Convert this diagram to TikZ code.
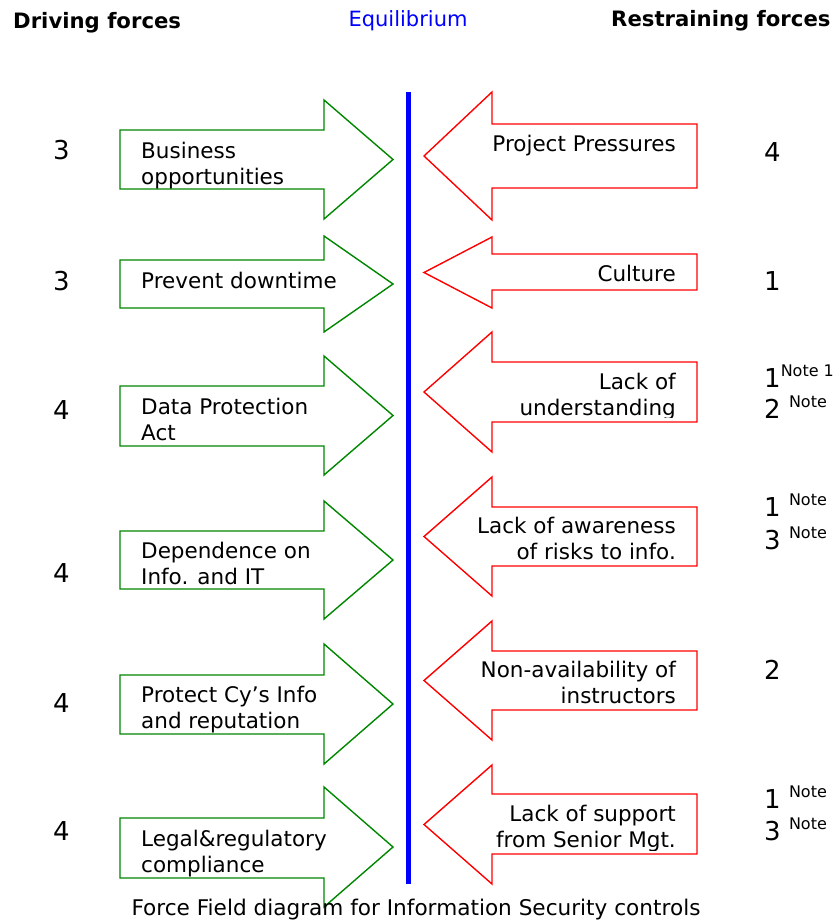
\documentclass[tikz,border=0pt]{standalone}
\usepackage{fontspec}
\setmainfont{DejaVu Sans}
\definecolor{fgreen}{RGB}{0,135,0}
\definecolor{fred}{RGB}{255,0,0}
\definecolor{fblue}{RGB}{0,0,255}
% green force arrow pointing right: head top, body top, body bottom, head bottom
\newcommand\driveArrow[4]{%
  \draw[drive] (120,#2) -- (324,#2) -- (324,#1) -- (393,{(#1+#4)/2})
    -- (324,#4) -- (324,#3) -- (120,#3) -- cycle;}
% red force arrow pointing left: head top, body top, body bottom, head bottom
\newcommand\restrainArrow[4]{%
  \draw[restrain] (697,#2) -- (492,#2) -- (492,#1) -- (424,{(#1+#4)/2})
    -- (492,#4) -- (492,#3) -- (697,#3) -- cycle;}
\newcommand\notetxt[1]{\raisebox{11pt}{\fontsize{16}{16}\selectfont #1}}
\begin{document}
\begin{tikzpicture}[x=1pt,y=-1pt,
  drive/.style={draw=fgreen, line width=1.4pt, fill=white},
  restrain/.style={draw=fred, line width=1.4pt, fill=white},
  lbl/.style={inner sep=0pt, font=\fontsize{21.5}{26}\selectfont},
  num/.style={inner sep=0pt, anchor=base west, font=\fontsize{26}{30}\selectfont},
  head/.style={inner sep=0pt, anchor=base west, font=\fontsize{21}{26}\selectfont}]
\clip (0,0) rectangle (834,920);
\fill[white] (0,0) rectangle (834,920);

% headings
\node[head, font=\bfseries\fontsize{21.2}{26}\selectfont] (hdrive) at (13,29) {Driving forces};
\node[head, anchor=base, text=fblue] (hequi) at (408,27) {Equilibrium};
\node[head, font=\bfseries\fontsize{21.2}{26}\selectfont] (hrest) at (611,27) {Restraining forces};

% equilibrium line
\coordinate (eqtop) at (408,92);
\coordinate (eqbot) at (408,884);
\draw[fblue, line width=5pt] (eqtop) -- (eqbot);

% driving forces
\driveArrow{100}{130}{189}{219}
\driveArrow{236}{260}{308}{332}
\driveArrow{356}{386}{446}{475}
\driveArrow{501}{531}{589}{619}
\driveArrow{644}{675}{734}{764}
\driveArrow{787}{818}{878}{907}

\node[lbl, anchor=base west] (d1) at (141,159) {\begin{tabular}[t]{@{}l@{}}Business\\opportunities\end{tabular}};
\node[lbl, anchor=base west] (d2) at (141,288) {Prevent downtime};
\node[lbl, anchor=base west] (d3) at (141,414) {\begin{tabular}[t]{@{}l@{}}Data Protection\\Act\end{tabular}};
\node[lbl, anchor=base west] (d4) at (141,558) {\begin{tabular}[t]{@{}l@{}}Dependence on\\Info. and IT\end{tabular}};
\node[lbl, anchor=base west] (d5) at (141,702) {\begin{tabular}[t]{@{}l@{}}Protect Cy’s Info\\and reputation\end{tabular}};
\node[lbl, anchor=base west] (d6) at (141,846) {\begin{tabular}[t]{@{}l@{}}Legal\&regulatory\\compliance\end{tabular}};

% restraining forces
\restrainArrow{92}{124}{188}{220}
\restrainArrow{237}{254}{290}{308}
\restrainArrow{332}{362}{422}{452}
\restrainArrow{477}{507}{566}{596}
\restrainArrow{621}{651}{710}{740}
\restrainArrow{765}{794}{854}{884}

\node[lbl, anchor=base east] (r1) at (676,152) {Project Pressures};
\node[lbl, anchor=base east] (r2) at (676,281) {Culture};
% text boxes that cut off the descenders of their last line
\begin{scope}
  \clip (492,362) rectangle (697,417);
  \node[lbl, anchor=base east] (r3) at (676,389) {\begin{tabular}[t]{@{}r@{}}Lack of\\understanding\end{tabular}};
\end{scope}
\node[lbl, anchor=base east] (r4) at (676,533) {\begin{tabular}[t]{@{}r@{}}Lack of awareness\\of risks to info.\end{tabular}};
\node[lbl, anchor=base east] (r5) at (676,677) {\begin{tabular}[t]{@{}r@{}}Non-availability of\\instructors\end{tabular}};
\begin{scope}
  \clip (492,794) rectangle (697,850);
  \node[lbl, anchor=base east] (r6) at (676,821) {\begin{tabular}[t]{@{}r@{}}Lack of support\\from Senior Mgt.\end{tabular}};
\end{scope}

% driving force scores
\node[num] (sd1) at (53,160) {3};
\node[num] (sd2) at (53,290) {3};
\node[num] (sd3) at (53,419) {4};
\node[num] (sd4) at (53,582) {4};
\node[num] (sd5) at (53,712) {4};
\node[num] (sd6) at (53,840) {4};

% restraining force scores
\node[num] (sr1) at (764,161) {4};
\node[num] (sr2) at (764,290) {1};
\node[num] (sr3a) at (764,387) {1\notetxt{Note 1}};
\node[num] (sr3b) at (764,418) {2 \notetxt{Note}};
\node[num] (sr4a) at (764,516) {1 \notetxt{Note}};
\node[num] (sr4b) at (764,549) {3 \notetxt{Note}};
\node[num] (sr5) at (764,679) {2};
\node[num] (sr6a) at (764,808) {1 \notetxt{Note}};
\node[num] (sr6b) at (764,840) {3 \notetxt{Note}};

% caption
\node[head, anchor=base, font=\fontsize{21.6}{26}\selectfont] (cap) at (416,915) {Force Field diagram for Information Security controls};
\end{tikzpicture}
\end{document}
